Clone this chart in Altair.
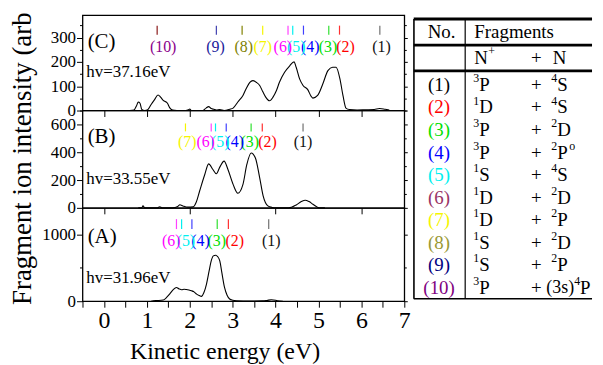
import altair as alt
import pandas as pd

FONT = "Liberation Serif"

# ---------------- spectra: kinetic energy (eV) / intensity (arb. units) -------------
c_energy = [0.60, 0.70, 0.76, 0.80, 0.84, 0.88, 0.95, 1.02, 1.10, 1.18, 1.26, 1.32, 1.38, 1.44,
            1.48, 1.53, 1.60, 1.70, 1.90, 1.97, 2.00, 2.04, 2.30, 2.38, 2.44, 2.50, 2.56, 2.62,
            2.70, 2.80, 2.93, 3.01, 3.12, 3.24, 3.32, 3.40, 3.47, 3.55, 3.63, 3.70, 3.77, 3.86,
            3.94, 4.02, 4.09, 4.21, 4.33, 4.43, 4.48, 4.56, 4.64, 4.75, 4.83, 4.87, 4.98, 5.10,
            5.22, 5.33, 5.41, 5.50, 5.57, 5.64, 5.72, 5.90, 6.10, 6.30, 6.42, 6.55, 6.65]
c_counts = [0, 2, 20, 35, 30, 5, 0, 3, 25, 45, 64, 55, 42, 36,
            30, 12, 2, 0, 0, 3, 6, 0, 0, 10, 16, 8, 5, 2,
            4, 0, 5, 10, 35, 62, 92, 116, 123, 116, 103, 78, 55, 40,
            55, 82, 116, 157, 184, 200, 178, 130, 103, 86, 58, 51, 62, 109,
            164, 178, 178, 130, 62, 10, 4, 2, 3, 4, 8, 5, 2]

b_energy = [0.80, 0.88, 0.91, 0.95, 1.10, 1.25, 1.30, 1.35, 1.60, 1.72, 1.77, 1.84, 1.95,
            2.08, 2.15, 2.23, 2.35, 2.44, 2.54, 2.62, 2.70, 2.80, 2.89,
            3.01, 3.12, 3.24, 3.33, 3.43, 3.53, 3.63, 3.71, 3.82, 3.92, 4.02,
            4.30, 4.48, 4.60, 4.69, 4.78, 4.87, 5.02, 5.15]
b_counts = [0, 0, 14, 0, 0, 0, 8, 0, 0, 10, 22, 14, 5,
            7, 40, 121, 240, 316, 276, 245, 293, 336, 276,
            169, 105, 169, 312, 395, 359, 216, 86, 14, 3, 0,
            0, 21, 45, 55, 45, 26, 0, 0]

a_energy = [1.10, 1.15, 1.25, 1.38, 1.45, 1.53, 1.61, 1.69, 1.75, 1.81,
            1.87, 1.92, 1.98, 2.04, 2.10, 2.16, 2.22, 2.27, 2.33, 2.39,
            2.45, 2.50, 2.55, 2.60, 2.65, 2.70, 2.75, 2.81, 2.87, 2.93,
            3.00, 3.09, 3.40, 3.70, 3.80, 3.90, 4.00, 4.05, 4.17]
a_counts = [0, 7, 10, 18, 50, 107, 170, 206, 185, 172,
            180, 176, 168, 157, 140, 107, 85, 72, 130, 257,
            450, 604, 680, 690, 670, 604, 420, 206, 90, 33,
            15, 7, 3, 5, 12, 22, 15, 5, 0]

# ---------------- fragment assignments -------------
frag_ids = ["(1)", "(2)", "(3)", "(4)", "(5)", "(6)", "(7)", "(8)", "(9)", "(10)"]
plot_label_colors = ["#111111", "#ff0000", "#00e000", "#0000ff", "#00f0f0", "#ff00ff",
                     "#f5f500", "#808000", "#1a1a9a", "#8b008b"]
plot_tick_colors = ["#707070", "#ff3030", "#30e030", "#4040ff", "#00f0f0", "#ff40ff",
                    "#f5f500", "#808000", "#4040b0", "#8b1a1a"]
table_colors = ["#000000", "#ff0000", "#00e000", "#0000ff", "#00f0f0", "#993366",
                "#f5f500", "#999933", "#000080", "#800080"]

c_tick_ev = [6.43, 5.49, 5.24, 4.65, 4.40, 4.29, 3.70, 3.22, 2.62, 1.24]
c_label_ev = [6.47, 5.63, 5.22, 4.81, 4.48, 4.17, 3.70, 3.26, 2.60, 1.38]
b_tick_ev = [4.64, 3.69, 3.43, 2.85, 2.60, 2.50, 1.90]
b_label_ev = [4.64, 3.81, 3.40, 3.05, 2.71, 2.37, 1.94]
a_tick_ev = [3.84, 2.90, 2.64, 2.05, 1.81, 1.69]
a_label_ev = [3.90, 3.05, 2.63, 2.25, 1.91, 1.57]

# table contents
nplus_sup = ["3", "1", "3", "3", "1", "1", "1", "1", "1", "3"]
nplus_term = ["P", "D", "P", "P", "S", "D", "D", "S", "S", "P"]
n_prefix = ["", "", "", "", "", "", "", "", "", "(3s)"]
n_sup = ["4", "4", "2", "2", "4", "2", "2", "2", "2", "4"]
n_term = ["S", "S", "D", "P", "S", "D", "P", "D", "P", "P"]
n_post = ["", "", "", "o", "", "", "", "", "", ""]


def make_panel(energy, counts, ymax, ystep, ylabel_step, xvals, xlabels, tick_ev, label_ev,
               tick_lo, tick_hi, label_y, letter, letter_y, hv, hv_y, height,
               xtitle=None, ytitle=None):
    n = len(tick_ev)
    xs = alt.Scale(domain=[-0.5, 7], nice=False, zero=False)
    ys = alt.Scale(domain=[0, ymax], nice=False, zero=True)
    yvals = list(range(0, ymax + 1, ystep))
    major = f"datum.value % {ylabel_step} == 0"
    y_kw = dict(values=yvals, labelExpr=f"{major} ? format(datum.value, 'd') : ''",
                labelFontSize=17, labelColor="black", labelPadding=1, labelOverlap=False,
                labelFlush=False,
                tickSize={"condition": {"test": major, "value": 6}, "value": 3},
                tickColor="black", tickWidth=1, domain=False)
    if ytitle:
        y_kw.update(title=ytitle, titleFontSize=27, titleFontWeight="normal", titleColor="black",
                    titleX=-52, titleY=48, titleAngle=270, titleAlign="center",
                    titleBaseline="alphabetic")
    else:
        y_kw.update(title=None)
    left_axis = alt.Axis(**y_kw)
    right_axis = alt.Axis(orient="right", values=yvals, labels=False, title=None, domain=False,
                          tickColor="black",
                          tickSize={"condition": {"test": major, "value": 3}, "value": 2})
    x_kw = dict(orient="bottom", values=xvals, tickSize=6, tickColor="black", tickWidth=1,
                domain=False, labelFlush=False, labelOverlap=False)
    if xlabels:
        x_kw.update(labelExpr="datum.value % 1 == 0 ? format(datum.value, 'd') : ''",
                    labelFontSize=24, labelColor="black", labelPadding=1, labels=True)
    else:
        x_kw.update(labels=False)
    if xtitle:
        x_kw.update(title=xtitle, titleFontSize=24, titleFontWeight="normal", titleColor="black",
                    titleX=143, titleY=58, titleAlign="center", titleBaseline="alphabetic")
    else:
        x_kw.update(title=None)
    xaxis = alt.Axis(**x_kw)

    def X(field):
        return alt.X(field, scale=xs, axis=xaxis)

    df = pd.DataFrame({"E": energy, "I": counts})
    line = alt.Chart(df).mark_line(color="black", strokeWidth=1.1, interpolate="monotone").encode(
        x=X("E:Q"), y=alt.Y("I:Q", scale=ys, axis=left_axis))
    right = alt.Chart(df).mark_point(opacity=0).encode(
        x=X("E:Q"), y=alt.Y("I:Q", scale=ys, axis=right_axis))

    tdf = pd.DataFrame({"E": tick_ev, "lo": [tick_lo] * n, "hi": [tick_hi] * n,
                        "c": plot_tick_colors[:n]})
    ticks = alt.Chart(tdf).mark_rule(strokeWidth=1.2).encode(
        x=X("E:Q"), y=alt.Y("lo:Q", scale=ys, axis=None), y2="hi:Q",
        color=alt.Color("c:N", scale=None))
    ldf = pd.DataFrame({"E": label_ev, "Y": [label_y] * n, "T": frag_ids[:n],
                        "c": plot_label_colors[:n]})
    labels = alt.Chart(ldf).mark_text(fontSize=16, baseline="middle", align="center").encode(
        x=X("E:Q"), y=alt.Y("Y:Q", scale=ys, axis=None),
        text="T:N", color=alt.Color("c:N", scale=None))
    adf = pd.DataFrame({"E": [-0.38, -0.41], "Y": [letter_y, hv_y], "T": [letter, hv],
                        "s": [21, 17]})
    annot = alt.Chart(adf).mark_text(baseline="middle", align="left", color="black").encode(
        x=X("E:Q"), y=alt.Y("Y:Q", scale=ys, axis=None),
        text="T:N", size=alt.Size("s:Q", scale=None))
    return alt.layer(line, right, ticks, labels, annot).resolve_axis(y="independent").properties(
        width=324, height=height)


pc = make_panel(c_energy, c_counts, 392, 50, 100, [0, 1, 2, 3, 4, 5, 6], False,
                c_tick_ev, c_label_ev, 312, 349, 259, "(C)", 280, "hv=37.16eV", 157, 96)
pb = make_panel(b_energy, b_counts, 700, 100, 200, [0, 2, 4, 6], False,
                b_tick_ev, b_label_ev, 550, 607, 474, "(B)", 509, "hv=33.55eV", 208, 98,
                ytitle="Fragment ion intensity (arb")
pa = make_panel(a_energy, a_counts, 1400, 500, 1000, [v / 2 for v in range(-1, 15)], True,
                a_tick_ev, a_label_ev, 1082, 1231, 903, "(A)", 963, "hv=31.96eV", 345, 94,
                xtitle="Kinetic energy (eV)")

left = alt.vconcat(pc, pb, pa, spacing=0, bounds="flush")

# ---------------- table -------------
TW, TH = 180, 288
txs = alt.Scale(domain=[0, TW], nice=False, zero=False)
tys = alt.Scale(domain=[-3.1, 9.6], nice=False, zero=False, reverse=True)
SUP = 0.31

items_left, items_right, items_center = [], [], []
for i in range(10):
    col = table_colors[i]
    items_center.append((26, i, frag_ids[i], col, 19))
    items_right.append((66.5, i - SUP, nplus_sup[i], "black", 12))
    items_left.append((66.5, i, nplus_term[i], "black", 19))
    items_center.append((124, i, "+", "black", 19))
    tx = 168 if n_prefix[i] else 145
    items_right.append((tx, i - SUP, n_sup[i], "black", 12))
    items_left.append((tx, i, n_term[i], "black", 19))
    if n_prefix[i]:
        items_right.append((tx - 6, i, n_prefix[i], "black", 18))
    if n_post[i]:
        items_left.append((tx + 12, i - SUP, n_post[i], "black", 12))
# header rows
items_center.append((28.5, -2.35, "No.", "black", 19))
items_left.append((61.5, -2.35, "Fragments", "black", 19))
items_left.append((61.5, -1.2, "N", "black", 19))
items_left.append((75.5, -1.2 - SUP, "+", "black", 12))
items_center.append((124, -1.2, "+", "black", 19))
items_left.append((140.5, -1.2, "N", "black", 19))


def tlayer(items, align):
    d = pd.DataFrame(items, columns=["x", "y", "t", "c", "s"])
    return alt.Chart(d).mark_text(align=align, baseline="middle").encode(
        x=alt.X("x:Q", scale=txs, axis=None), y=alt.Y("y:Q", scale=tys, axis=None),
        text="t:N", color=alt.Color("c:N", scale=None), size=alt.Size("s:Q", scale=None))


hl = pd.DataFrame({"x": [0.5] * 4, "x2": [TW] * 4, "y": [-2.93, -1.77, -0.63, 9.49],
                   "w": [3.0, 2.7, 2.7, 1.6]})
hrules = alt.Chart(hl).mark_rule(color="black").encode(
    x=alt.X("x:Q", scale=txs, axis=None), x2="x2:Q",
    y=alt.Y("y:Q", scale=tys, axis=None), strokeWidth=alt.StrokeWidth("w:Q", scale=None))
vl = pd.DataFrame({"x": [0.7, 52.3], "y": [-2.93, -2.93], "y2": [9.49, 9.49], "w": [1.6, 1.2]})
vrules = alt.Chart(vl).mark_rule(color="black").encode(
    x=alt.X("x:Q", scale=txs, axis=None),
    y=alt.Y("y:Q", scale=tys, axis=None), y2="y2:Q",
    strokeWidth=alt.StrokeWidth("w:Q", scale=None))

table = alt.layer(hrules, vrules, tlayer(items_left, "left"), tlayer(items_right, "right"),
                  tlayer(items_center, "center")).properties(
    width=TW, height=TH, view=alt.ViewBackground(stroke="transparent"))

chart = alt.hconcat(left, table, spacing=0).properties(
    padding={"left": 0, "top": 2, "right": 0, "bottom": 0}
).configure(font=FONT).configure_view(stroke="black", strokeWidth=1.3).configure_axis(grid=False)

chart.save("out.html", embed_options={"renderer": "svg", "actions": False})
